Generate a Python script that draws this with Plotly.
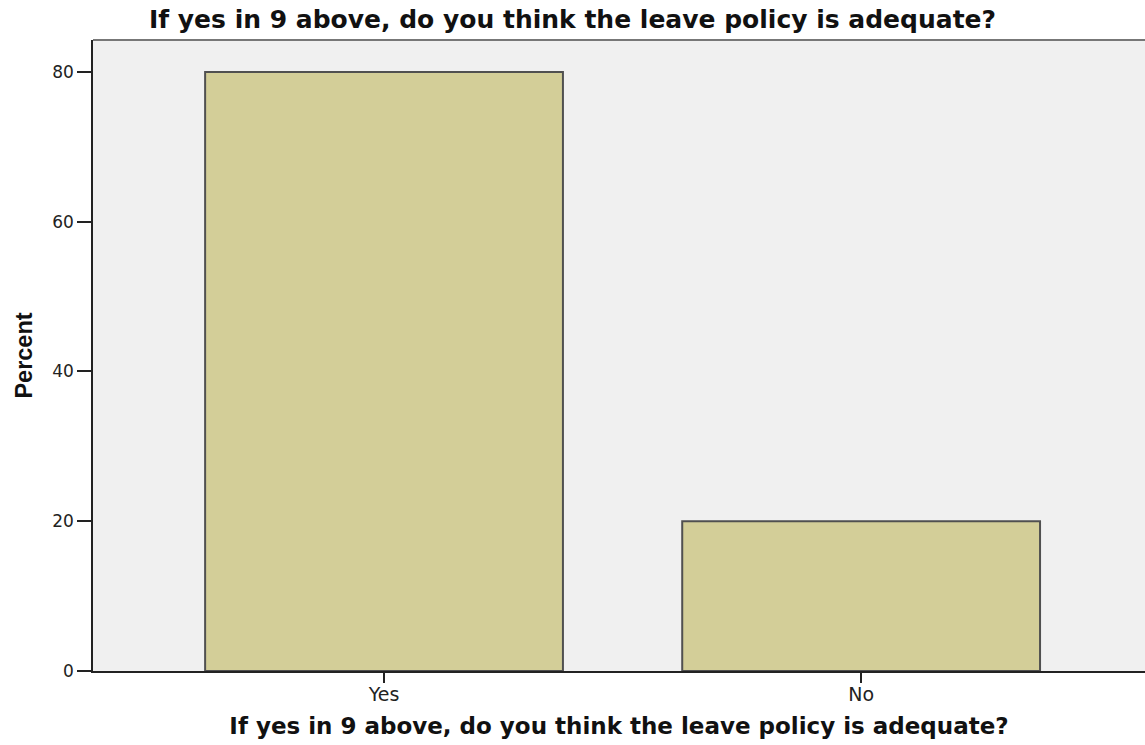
import plotly.graph_objects as go

categories = ["Yes", "No"]
percent = [80.0, 20.0]
y_ticks = [0, 20, 40, 60, 80]
title_text = "If yes in 9 above, do you think the leave policy is adequate?"
y_title = "Percent"

fig = go.Figure()
fig.add_trace(go.Bar(
    x=categories,
    y=percent,
    width=0.75,
    marker=dict(color="#D3CE98", line=dict(color="#505050", width=2)),
    hoverinfo="x+y",
))

fig.update_layout(
    width=1145,
    height=745,
    margin=dict(l=93, r=0, t=40, b=74),
    paper_bgcolor="white",
    plot_bgcolor="#F0F0F0",
    showlegend=False,
    title=dict(
        text=title_text,
        font=dict(family="DejaVu Sans", size=25, color="#111111", weight="bold"),
        x=0.5, xref="container", xanchor="center",
        y=1 - 19.5 / 745, yref="container", yanchor="middle",
    ),
    xaxis=dict(
        type="category",
        range=[-0.61, 1.595],
        showgrid=False,
        showline=True, linecolor="#222222", linewidth=1.5,
        ticks="outside", ticklen=10, tickcolor="#222222", tickwidth=1.5,
        ticklabelstandoff=-5,
        tickfont=dict(family="DejaVu Sans", size=19, color="#222222"),
        title=dict(text=title_text, standoff=14,
                   font=dict(family="DejaVu Sans", size=23, color="#111111", weight="bold")),
        zeroline=False,
    ),
    yaxis=dict(
        range=[0, 84.27],
        tickvals=y_ticks,
        showgrid=False,
        showline=True, linecolor="#222222", linewidth=1.5,
        ticks="outside", ticklen=14, tickcolor="#222222", tickwidth=1.5,
        tickfont=dict(family="DejaVu Sans", size=17, color="#222222"),
        title=dict(text=y_title, standoff=13,
                   font=dict(family="Liberation Sans", size=23.5, color="#111111", weight="bold")),
        zeroline=False,
    ),
    shapes=[dict(type="line", xref="paper", yref="paper", x0=0, x1=1, y0=1, y1=1,
                 line=dict(color="#777777", width=2))],
)

fig.write_html(
    "out.html",
    config={"displayModeBar": False},
    post_script="document.body.style.margin='0';document.body.style.overflow='hidden';",
)
